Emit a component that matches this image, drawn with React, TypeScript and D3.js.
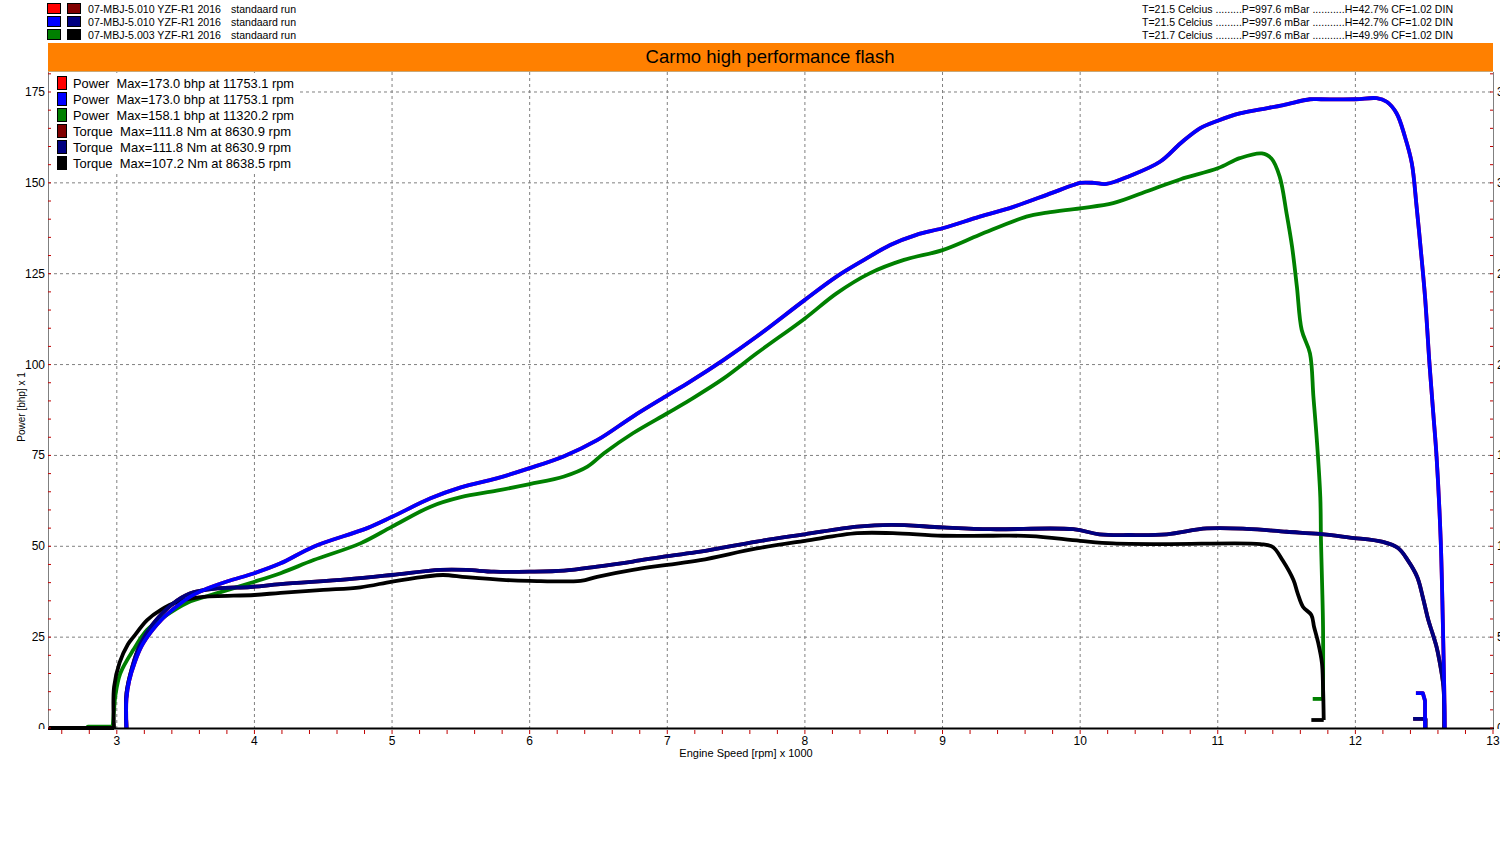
import React from "react";
import * as d3 from "d3";

type P = [number, number];

// ---------- header data ----------
const runNames = ["07-MBJ-5.010 YZF-R1 2016", "07-MBJ-5.010 YZF-R1 2016", "07-MBJ-5.003 YZF-R1 2016"];
const runType = "standaard run";
const powerColors = ["#ff0000", "#0000ff", "#008000"];
const torqueColors = ["#800000", "#000080", "#000000"];
const conditions = [
  "T=21.5 Celcius .........P=997.6 mBar ...........H=42.7% CF=1.02 DIN",
  "T=21.5 Celcius .........P=997.6 mBar ...........H=42.7% CF=1.02 DIN",
  "T=21.7 Celcius .........P=997.6 mBar ...........H=49.9% CF=1.02 DIN",
];
const title = "Carmo high performance flash";

const legendLabels = [
  "Power  Max=173.0 bhp at 11753.1 rpm",
  "Power  Max=173.0 bhp at 11753.1 rpm",
  "Power  Max=158.1 bhp at 11320.2 rpm",
  "Torque  Max=111.8 Nm at 8630.9 rpm",
  "Torque  Max=111.8 Nm at 8630.9 rpm",
  "Torque  Max=107.2 Nm at 8638.5 rpm",
];
const legendColors = ["#ff0000", "#0000ff", "#008000", "#800000", "#000080", "#000000"];

// ---------- axis ticks ----------
const xTicks = [3, 4, 5, 6, 7, 8, 9, 10, 11, 12, 13];
const yTicks = [0, 25, 50, 75, 100, 125, 150, 175];
const torqueTicks = [0, 50, 100, 150, 200, 250, 300, 350];
const xTitle = "Engine Speed [rpm] x 1000";
const yTitle = "Power [bhp] x 1";

// ---------- series: [rpm x1000, bhp] ----------
const run2Power: P[] = [
  [3.07, 0], [3.07, 8], [3.09, 13], [3.13, 18], [3.18, 22.5], [3.25, 26.5], [3.33, 30], [3.42, 33],
  [3.52, 35.8], [3.62, 37.8], [3.8, 40.3], [4.0, 42.6], [4.19, 45.3], [4.43, 49.9], [4.82, 55],
  [5.0, 58.1], [5.28, 63.2], [5.5, 66.2], [5.76, 68.7], [6.0, 71.5], [6.25, 74.8], [6.49, 79.2],
  [6.75, 85.7], [7.0, 91.5], [7.166, 95.3], [7.41, 101.3], [7.65, 107.7], [8.0, 117.8], [8.23, 124.2],
  [8.43, 128.8], [8.62, 132.9], [8.81, 135.7], [9.0, 137.5], [9.27, 140.7], [9.515, 143.4],
  [9.758, 146.7], [9.95, 149.4], [10.0, 150], [10.1, 150], [10.19, 149.7], [10.36, 151.9],
  [10.58, 155.8], [10.73, 160.9], [10.87, 165], [11.0, 167.1], [11.16, 169.1], [11.31, 170.2],
  [11.477, 171.4], [11.67, 173.0], [11.75, 173.0], [12.0, 173.0], [12.155, 173.3], [12.228, 172.3],
  [12.3, 169.1], [12.36, 162.7], [12.41, 155.4], [12.445, 143.4], [12.48, 129.7], [12.506, 118.7],
  [12.54, 99.4], [12.566, 86.6], [12.59, 74.6], [12.62, 51.7], [12.635, 30], [12.645, 12], [12.65, 0],
];
const run2PowerTail: P[] = [[12.44, 9.6], [12.49, 9.6], [12.506, 7.5], [12.506, 0]];
const run1Power: P[] = run2Power;
const run1PowerTail: P[] = run2PowerTail;

const run3Power: P[] = [
  [2.5, 0], [2.78, 0], [2.79, 0.4], [2.97, 0.4], [2.98, 5], [2.99, 9], [3.025, 15], [3.12, 21.5],
  [3.22, 27], [3.34, 30.5], [3.51, 34.4], [3.73, 37.1], [3.97, 39.9], [4.19, 42.6], [4.43, 46.2],
  [4.77, 50.8], [5.0, 55.4], [5.28, 60.9], [5.5, 63.5], [5.76, 65.3], [6.0, 67.1], [6.25, 69.2],
  [6.42, 71.9], [6.54, 75.6], [6.75, 81.1], [7.0, 86.6], [7.166, 90.3], [7.41, 96.2], [7.65, 103.1],
  [8.0, 112.7], [8.23, 119.6], [8.47, 125.1], [8.72, 128.8], [9.0, 131.5], [9.27, 135.7],
  [9.61, 140.7], [9.76, 141.8], [10.0, 143], [10.24, 144.4], [10.48, 147.6], [10.73, 151],
  [11.0, 154], [11.16, 156.8], [11.32, 158.1], [11.39, 156.7], [11.45, 151.7], [11.5, 141.6],
  [11.54, 132.4], [11.575, 121.4], [11.61, 109.5], [11.67, 103.1], [11.695, 91.2], [11.72, 79.2],
  [11.745, 63.6], [11.75, 51.7], [11.758, 39.9], [11.765, 27.8], [11.765, 8], [11.69, 8],
];

// ---------- series: [rpm x1000, Nm] ----------
const run2Torque: P[] = [
  [3.07, 0], [3.07, 19], [3.11, 33], [3.17, 46], [3.26, 57], [3.4, 68], [3.53, 74], [3.73, 76.8],
  [3.97, 77.6], [4.19, 79.2], [4.67, 81.8], [5.0, 84.2], [5.35, 87], [5.54, 87], [5.74, 86],
  [6.0, 86], [6.25, 86.6], [6.49, 88.8], [6.75, 91.6], [7.0, 94.6], [7.24, 97], [7.65, 102.6],
  [8.0, 106.6], [8.38, 110.8], [8.63, 111.8], [9.0, 110.4], [9.35, 109.4], [9.95, 109.4],
  [10.14, 106.6], [10.36, 106.2], [10.63, 106.6], [10.92, 109.8], [11.21, 109.6], [11.5, 108],
  [11.74, 106.8], [11.96, 104.8], [12.2, 102.4], [12.31, 99], [12.38, 92.4], [12.45, 83],
  [12.49, 72], [12.53, 59.4], [12.56, 52.2], [12.59, 44.6], [12.61, 37.4], [12.64, 22.6], [12.645, 0],
];
const run2TorqueTail: P[] = [[12.42, 5], [12.51, 5], [12.51, 0]];
const run1Torque: P[] = run2Torque;
const run1TorqueTail: P[] = run2TorqueTail;

const run3Torque: P[] = [
  [2.5, 0], [2.98, 0], [2.98, 22.6], [3.02, 36], [3.08, 46], [3.12, 50], [3.22, 59.4], [3.32, 65],
  [3.44, 69.4], [3.61, 72], [4.0, 73.2], [4.19, 74.4], [4.5, 76], [4.77, 77.4], [5.0, 80.6],
  [5.23, 83.2], [5.37, 84.2], [5.54, 83], [5.83, 81.4], [6.0, 81], [6.37, 81], [6.49, 83.2],
  [6.75, 87], [7.0, 89.8], [7.24, 92.4], [7.65, 98.8], [8.0, 103], [8.38, 107.2], [8.64, 107.2],
  [9.0, 105.8], [9.35, 105.8], [9.64, 105.6], [10.0, 103], [10.24, 101.6], [10.63, 101.2],
  [11.31, 101.2], [11.4, 99.6], [11.47, 92.4], [11.55, 81.4], [11.58, 74.2], [11.62, 66.6],
  [11.68, 62.2], [11.7, 55.6], [11.73, 46.8], [11.757, 35.8], [11.765, 22.6], [11.77, 4.4], [11.68, 4.4],
];

const FONT = "'Liberation Sans', Arial, sans-serif";

export default function App() {
  const L = 48, R = 1493, T = 72, B = 728;
  const x = d3.scaleLinear().domain([2.5, 13]).range([L, R]);
  const y = d3.scaleLinear().domain([0, 180.5]).range([B, T]);
  const yt = d3.scaleLinear().domain([0, 361]).range([B, T]);

  const smooth = d3.curveCatmullRom.alpha(0.5);

  // draws a series: straight pieces for the first `h` and last `t` segments, smooth body in between
  const paths = (data: P[], ys: d3.ScaleLinear<number, number>, h: number, t: number): string[] => {
    const sm = d3.line<P>().x((d) => x(d[0])).y((d) => ys(d[1])).curve(smooth);
    const ln = d3.line<P>().x((d) => x(d[0])).y((d) => ys(d[1]));
    const out: string[] = [];
    if (h > 0) out.push(ln(data.slice(0, h + 1)) || "");
    out.push(sm(data.slice(h, data.length - t)) || "");
    if (t > 0) out.push(ln(data.slice(data.length - t - 1)) || "");
    return out;
  };
  const straight = (data: P[], ys: d3.ScaleLinear<number, number>): string[] => [
    d3.line<P>().x((d) => x(d[0])).y((d) => ys(d[1]))(data) || "",
  ];

  const yMinor = d3.range(0, 180.01, 5);
  const tMinor = d3.range(0, 361, 10);
  const xMinor = d3.range(2.6, 13.001, 0.2);

  const series = [
    { d: paths(run1Power, y, 0, 0), c: powerColors[0] },
    { d: straight(run1PowerTail, y), c: powerColors[0] },
    { d: paths(run1Torque, yt, 0, 0), c: torqueColors[0] },
    { d: straight(run1TorqueTail, yt), c: torqueColors[0] },
    { d: paths(run3Power, y, 3, 1), c: powerColors[2] },
    { d: paths(run3Torque, yt, 1, 1), c: torqueColors[2] },
    { d: paths(run2Torque, yt, 0, 0), c: torqueColors[1] },
    { d: straight(run2TorqueTail, yt), c: torqueColors[1] },
    { d: paths(run2Power, y, 0, 0), c: powerColors[1] },
    { d: straight(run2PowerTail, y), c: powerColors[1] },
  ];

  return (
    <div style={{ position: "absolute", left: 0, top: 0, width: 1500, height: 850, overflow: "hidden", background: "#fff" }}>
      <svg width={1500} height={850} style={{ display: "block", fontFamily: FONT }}>
        <defs>
          <clipPath id="lblclip">
            <rect x={0} y={0} width={1500} height={B + 1} />
          </clipPath>
        </defs>
        <rect x={0} y={0} width={1500} height={850} fill="#fff" />

        {/* header run rows */}
        {runNames.map((n, i) => (
          <g key={"h" + i}>
            <rect x={47.5} y={3.5 + i * 13} width={13} height={10} fill={powerColors[i]} stroke="#000" />
            <rect x={67.5} y={3.5 + i * 13} width={13} height={10} fill={torqueColors[i]} stroke="#000" />
            <text x={88} y={12.5 + i * 13} fontSize={11.5} fill="#000" textLength={133} lengthAdjust="spacingAndGlyphs">{n}</text>
            <text x={231} y={12.5 + i * 13} fontSize={11.5} fill="#000" textLength={65} lengthAdjust="spacingAndGlyphs">{runType}</text>
            <text x={1142} y={12.5 + i * 13} fontSize={11.5} fill="#000" textLength={311} lengthAdjust="spacingAndGlyphs">{conditions[i]}</text>
          </g>
        ))}

        {/* title bar */}
        <rect x={L} y={43} width={R - L} height={28} fill="#ff8000" />
        <line x1={L} x2={R} y1={71.5} y2={71.5} stroke="#c8a878" strokeWidth={1} />
        <text x={770} y={63} fontSize={18.5} textAnchor="middle" fill="#000">{title}</text>

        {/* grid */}
        {yTicks.filter((v) => v > 0).map((v) => (
          <line key={"gy" + v} x1={L} x2={R} y1={y(v)} y2={y(v)} stroke="#808080" strokeDasharray="3,3" />
        ))}
        {xTicks.filter((v) => v < 13).map((v) => (
          <line key={"gx" + v} x1={x(v)} x2={x(v)} y1={T} y2={B} stroke="#808080" strokeDasharray="3,3" />
        ))}

        {/* legend box */}
        <rect x={49} y={73} width={250} height={98} fill="#fff" />
        {legendLabels.map((s, i) => (
          <g key={"lg" + i}>
            <rect x={57.5} y={76.5 + i * 16} width={9} height={13} fill={legendColors[i]} stroke="#000" />
            <text x={73} y={88 + i * 16} fontSize={13} fill="#000" style={{ whiteSpace: "pre" }}
              textLength={i < 3 ? 221 : 218} lengthAdjust="spacingAndGlyphs">{s}</text>
          </g>
        ))}

        {/* curves */}
        {series.map((s, i) => (
          <g key={"s" + i}>
            {s.d.map((p, j) => (
              <path key={j} d={p} fill="none" stroke={s.c} strokeWidth={3.8} strokeLinejoin="round" strokeLinecap="butt" />
            ))}
          </g>
        ))}

        {/* axes */}
        <line x1={L + 0.5} x2={L + 0.5} y1={T} y2={B} stroke="#808080" />
        <line x1={R + 0.5} x2={R + 0.5} y1={T} y2={B} stroke="#808080" />
        <line x1={L} x2={R + 1} y1={B + 0.5} y2={B + 0.5} stroke="#000" strokeWidth={2} />

        {yMinor.map((v) => (
          <line key={"ym" + v} x1={L} x2={L + 3} y1={y(v)} y2={y(v)} stroke="#c00000" />
        ))}
        {tMinor.map((v) => (
          <line key={"tm" + v} x1={R - 3} x2={R} y1={yt(v)} y2={yt(v)} stroke="#c00000" />
        ))}
        {xMinor.map((v) => (
          <line key={"xm" + v.toFixed(1)} x1={x(v)} x2={x(v)} y1={B + 2} y2={B + 6} stroke="#c00000" />
        ))}

        <g clipPath="url(#lblclip)">
          {yTicks.map((v) => (
            <text key={"yl" + v} x={45} y={y(v) + 4} fontSize={12} textAnchor="end" fill="#000">{v}</text>
          ))}
          {torqueTicks.map((v) => (
            <text key={"tl" + v} x={1497} y={yt(v) + 4} fontSize={12} fill="#000">{v}</text>
          ))}
        </g>
        {xTicks.map((v) => (
          <text key={"xl" + v} x={x(v)} y={745} fontSize={12} textAnchor="middle" fill="#000">{v}</text>
        ))}

        <text x={746} y={757} fontSize={11} textAnchor="middle" fill="#000">{xTitle}</text>
        <text transform={`translate(25,407) rotate(-90)`} fontSize={10} textAnchor="middle" fill="#000">{yTitle}</text>
      </svg>
    </div>
  );
}
